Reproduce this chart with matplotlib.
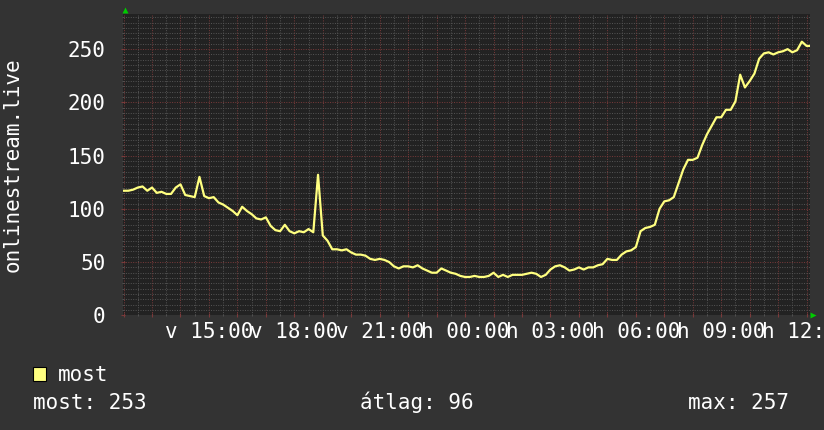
import numpy as np
import matplotlib
matplotlib.use("Agg")
import matplotlib.pyplot as plt
from matplotlib.ticker import MultipleLocator, FixedLocator
from matplotlib.patches import Rectangle

plt.rcParams['font.family'] = ['DejaVu Sans Mono', 'DejaVu Sans']

# viewers, one sample every 10 minutes, starting 12:00 (vasárnap)
step_h = 1 / 6
viewers = [117, 117, 118, 120, 121, 117, 120, 115, 116, 114,
           114, 120, 123, 113, 112, 111, 130, 112, 110, 111,
           106, 104, 101, 98, 94, 102, 98, 95, 91, 90,
           92, 84, 80, 79, 85, 79, 77, 79, 78, 81,
           78, 132, 75, 70, 62, 62, 61, 62, 59, 57,
           57, 56, 53, 52, 53, 52, 50, 46, 44, 46,
           46, 45, 47, 44, 42, 40, 40, 44, 42, 40,
           39, 37, 36, 36, 37, 36, 36, 37, 40, 36,
           38, 36, 38, 38, 38, 39, 40, 39, 36, 38,
           43, 46, 47, 45, 42, 43, 45, 43, 45, 45,
           47, 48, 53, 52, 52, 57, 60, 61, 64, 79,
           82, 83, 85, 100, 107, 108, 111, 124, 137, 146,
           146, 148, 160, 170, 178, 186, 186, 193, 193, 201,
           226, 214, 220, 227, 241, 246, 247, 245, 247, 248,
           250, 247, 249, 257, 253, 253]
hours = np.arange(len(viewers)) * step_h

tick_hours = [3, 6, 9, 12, 15, 18, 21, 24]
tick_labels = ['v 15:00', 'v 18:00', 'v 21:00', 'h 00:00',
               'h 03:00', 'h 06:00', 'h 09:00', 'h 12:00']
y_ticks = [0, 50, 100, 150, 200, 250]

legend_name = 'most'
stats = [('most: 253', 33), ('átlag: 96', 360), ('max: 257', 688)]

W, H = 824, 430
bg = '#333333'
canvas = '#222222'
line_col = '#ffff80'
minor_col = '#555555'
major_col = '#7a3a3a'
txt_col = 'white'
fs = 15

fig = plt.figure(figsize=(W / 100, H / 100), dpi=100, facecolor=bg)
ax = fig.add_axes([123 / W, (H - 315.3) / H, (810 - 123) / W, (315.3 - 14) / H])
ax.set_facecolor(canvas)

ax.plot(hours, viewers, color=line_col, lw=1.6, zorder=3)

ax.set_xlim(-0.02, 24.12)
ax.set_ylim(0, 283)

# grid
ax.xaxis.set_major_locator(MultipleLocator(1))
ax.xaxis.set_minor_locator(MultipleLocator(0.5))
ax.yaxis.set_major_locator(FixedLocator(y_ticks))
ax.yaxis.set_minor_locator(MultipleLocator(5))
ax.grid(which='minor', color=minor_col, lw=0.7, ls=(0, (1, 1.5)))
ax.grid(which='major', color=major_col, lw=0.7, ls=(0, (1, 1.5)))
ax.set_axisbelow(True)

# labels only every 3 hours
xt = ax.get_xticks()
ax.set_xticklabels([tick_labels[tick_hours.index(int(round(t)))] if int(round(t)) in tick_hours else ''
                    for t in xt])
ax.set_yticks(y_ticks)
ax.set_yticklabels([str(v) for v in y_ticks])
ax.tick_params(axis='x', which='major', length=3, color=major_col, direction='inout',
               labelsize=fs, labelcolor=txt_col, pad=3)
ax.tick_params(axis='x', which='minor', length=2, color=minor_col, direction='inout')
ax.tick_params(axis='y', which='major', length=3, color=major_col, direction='inout',
               labelsize=fs, labelcolor=txt_col, pad=11)
ax.tick_params(axis='y', which='minor', length=2, color=minor_col, direction='inout')
for s in ax.spines.values():
    s.set_visible(False)

# green arrows at axis ends
ax.plot([0.003], [1.012], marker='^', color='#00cc00', ms=4.5, mec='none',
        transform=ax.transAxes, clip_on=False)
ax.plot([1.0045], [0.0], marker='>', color='#00cc00', ms=4.5, mec='none',
        transform=ax.transAxes, clip_on=False)

fig.text(13 / W, (H - 165) / H, 'onlinestream.live', rotation=90, ha='center',
         va='center', color=txt_col, fontsize=fs)

# legend
fig.add_artist(Rectangle((33 / W, (H - 381) / H), 13 / W, 14 / H, facecolor=line_col,
                         edgecolor='black', lw=0.8, transform=fig.transFigure))
fig.text(58 / W, (H - 381) / H, legend_name, ha='left', va='baseline',
         color=txt_col, fontsize=fs)
for label, x in stats:
    fig.text(x / W, (H - 409) / H, label, ha='left', va='baseline',
             color=txt_col, fontsize=fs)

fig.savefig('out.png', dpi=100, facecolor=bg)
